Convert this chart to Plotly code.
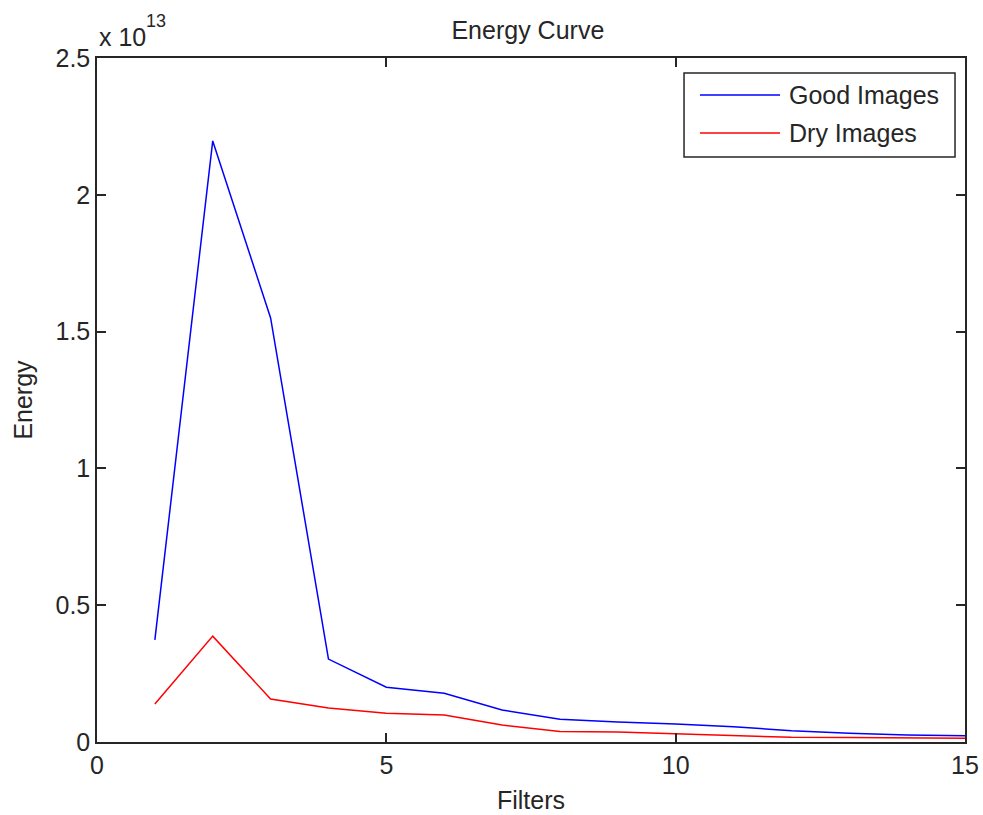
import plotly.graph_objects as go

filters = list(range(1, 16))
scale_exp = 13
good_images = [0.373, 2.197, 1.55, 0.303, 0.20, 0.178, 0.117, 0.083, 0.073, 0.066, 0.056, 0.041, 0.032, 0.026, 0.023]
dry_images = [0.139, 0.387, 0.157, 0.124, 0.105, 0.099, 0.062, 0.038, 0.037, 0.031, 0.025, 0.017, 0.016, 0.015, 0.014]
series_names = ["Good Images", "Dry Images"]
series_colors = ["#0000ff", "#ff0000"]
y_ticks = [0, 0.5, 1, 1.5, 2, 2.5]
y_tick_text = ["0", "0.5", "1", "1.5", "2", "2.5"]
x_ticks = [0, 5, 10, 15]

font_family = "Liberation Sans, Arial, sans-serif"
ink = "#262626"
fs = 25

fig = go.Figure()
for name, vals, col in zip(series_names, [good_images, dry_images], series_colors):
    fig.add_trace(go.Scatter(x=filters, y=vals, mode="lines", name=name,
                             showlegend=False, line=dict(color=col, width=1.5)))

axis_common = dict(showline=True, linecolor=ink, linewidth=1.5, mirror="ticks",
                   ticks="inside", ticklen=9, tickcolor=ink, tickwidth=1.5,
                   showgrid=False, zeroline=False,
                   tickfont=dict(size=fs, color=ink, family=font_family))

fig.update_layout(
    width=983, height=815,
    margin=dict(l=97, r=18, t=58, b=73, autoexpand=False),
    paper_bgcolor="white", plot_bgcolor="white",
    font=dict(family=font_family, color=ink),
    title=dict(text="Energy Curve", x=0.537, xanchor="center", y=0.963, yanchor="middle",
               font=dict(size=fs, color=ink)),
    xaxis=dict(range=[0, 15], tickvals=x_ticks,
               title=dict(text="Filters", font=dict(size=fs), standoff=14), **axis_common),
    yaxis=dict(range=[0, 2.5], tickvals=y_ticks, ticktext=y_tick_text,
               title=dict(text="Energy", font=dict(size=fs), standoff=16), **axis_common),
    showlegend=False,
)

# legend box drawn inside the axes (paper coordinates)
box_x0, box_x1, box_y0, box_y1 = 0.6763, 0.9885, 0.8553, 0.9781
line_x0, line_x1, text_x = 0.6947, 0.7869, 0.7949
row_y = [0.9459, 0.8904]
fig.add_shape(type="rect", xref="paper", yref="paper", x0=box_x0, x1=box_x1, y0=box_y0, y1=box_y1,
              line=dict(color=ink, width=1.5), fillcolor="white", layer="above")
for name, col, yy in zip(series_names, series_colors, row_y):
    fig.add_shape(type="line", xref="paper", yref="paper", x0=line_x0, x1=line_x1, y0=yy, y1=yy,
                  line=dict(color=col, width=1.5), layer="above")
    fig.add_annotation(xref="paper", yref="paper", x=text_x, y=yy, xanchor="left", yanchor="middle",
                       text=name, showarrow=False, font=dict(size=fs, color=ink))

fig.add_annotation(xref="paper", yref="paper", x=0, y=1, xanchor="left", yanchor="middle",
                   text="x 10", showarrow=False,
                   font=dict(size=fs, color=ink), xshift=0, yshift=21)
fig.add_annotation(xref="paper", yref="paper", x=0, y=1, xanchor="left", yanchor="middle",
                   text=str(scale_exp), showarrow=False,
                   font=dict(size=18, color=ink), xshift=47, yshift=37)

fig.write_html("out.html", config={"displayModeBar": False},
               post_script="document.body.style.margin='0';")
